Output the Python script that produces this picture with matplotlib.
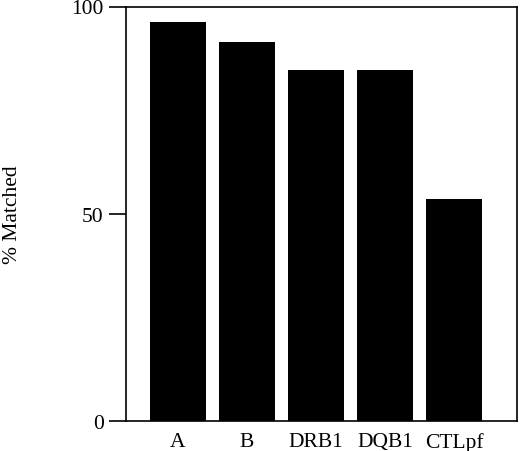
import matplotlib
matplotlib.use("Agg")
import matplotlib.pyplot as plt

categories = ["A", "B", "DRB1", "DQB1", "CTLpf"]
values = [96.3, 91.4, 84.8, 84.8, 53.5]
yticks = [0, 50, 100]

plt.rcParams['font.family'] = ['Liberation Serif', 'DejaVu Serif']

fig = plt.figure(figsize=(5.2, 4.52), dpi=100)
ax = fig.add_axes([126/520, 1-422/452, (517-126)/520, (422-7.5)/452])
ax.bar(range(len(categories)), values, width=0.81, color='black')
ax.set_xlim(-0.75, 4.91)
ax.set_ylim(0, 100)
ax.set_yticks(yticks)
ax.set_yticklabels([str(t) for t in yticks], fontsize=15.5)
ax.set_xticks(range(len(categories)))
ax.set_xticklabels(categories, fontsize=15.5)
ax.tick_params(axis='x', length=0, pad=8)
ax.tick_params(axis='y', length=12, width=1.2, direction='out', pad=4)
for s in ax.spines.values():
    s.set_linewidth(1.2)
ax.set_ylabel("% Matched", fontsize=15.5, va='center')
ax.yaxis.set_label_coords(-0.29, 0.5)
fig.savefig("out.png", dpi=100)
